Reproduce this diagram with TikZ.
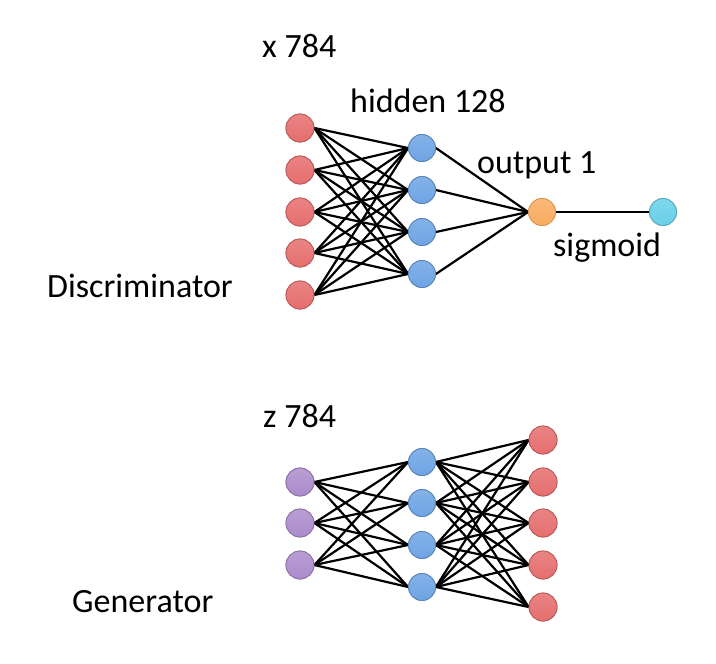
\documentclass[tikz,border=0pt]{standalone}
\usepackage{fontspec}
\setmainfont{Carlito}
\definecolor{nred}{RGB}{230,110,110}
\definecolor{nblue}{RGB}{110,164,228}
\definecolor{norange}{RGB}{250,172,96}
\definecolor{ncyan}{RGB}{104,208,232}
\definecolor{npurple}{RGB}{172,140,204}
\tikzset{
  neuron/.style={circle,minimum size=28pt,inner sep=0pt,line width=0.8pt},
  redn/.style={neuron,top color=nred!85!white,bottom color=nred,draw=nred!80!black},
  bluen/.style={neuron,minimum size=27pt,top color=nblue!85!white,bottom color=nblue,draw=nblue!80!black},
  orangen/.style={neuron,minimum size=27pt,top color=norange!85!white,bottom color=norange,draw=norange!85!black},
  cyann/.style={neuron,minimum size=27pt,top color=ncyan!85!white,bottom color=ncyan,draw=ncyan!80!black},
  purplen/.style={neuron,top color=npurple!85!white,bottom color=npurple,draw=npurple!80!black},
  conn/.style={draw=black,line width=2.2pt},
  lbl/.style={anchor=base west,inner sep=0pt,font=\fontsize{34}{40}\selectfont}
}
\begin{document}
\begin{tikzpicture}[x=1pt,y=-1pt]
\useasboundingbox (0,0) rectangle (716,664);
% Discriminator
\foreach \i/\y in {1/128,2/170,3/212,4/253,5/295} \node[redn] (di\i) at (300,\y) {};
\foreach \i/\y in {1/148,2/190,3/232,4/274} \node[bluen] (dh\i) at (422,\y) {};
\node[orangen] (do) at (542,212) {};
\node[cyann] (ds) at (663,212) {};
\foreach \i in {1,...,5}
  \foreach \j in {1,...,4}
    \draw[conn] (di\i.east) -- (dh\j.west);
\foreach \j in {1,...,4} \draw[conn] (dh\j.east) -- (do.west);
\draw[conn] (do.east) -- (ds.west);
% redraw nodes on top
\foreach \i in {1,...,5} \node[redn] at (di\i) {};
\foreach \i in {1,...,4} \node[bluen] at (dh\i) {};
\node[orangen] at (do) {};
\node[cyann] at (ds) {};
% Generator
\foreach \i/\y in {1/482,2/523,3/565} \node[purplen] (gi\i) at (300,\y) {};
\foreach \i/\y in {1/462,2/503,3/545,4/587} \node[bluen] (gh\i) at (422,\y) {};
\foreach \i/\y in {1/440,2/482,3/523,4/565,5/607} \node[redn] (go\i) at (543,\y) {};
\foreach \i in {1,...,3}
  \foreach \j in {1,...,4}
    \draw[conn] (gi\i.east) -- (gh\j.west);
\foreach \i in {1,...,4}
  \foreach \j in {1,...,5}
    \draw[conn] (gh\i.east) -- (go\j.west);
\foreach \i in {1,...,3} \node[purplen] at (gi\i) {};
\foreach \i in {1,...,4} \node[bluen] at (gh\i) {};
\foreach \i in {1,...,5} \node[redn] at (go\i) {};
% labels
\node[lbl] (tx) at (262,57) {x 784};
\node[lbl] (th) at (350,112) {hidden 128};
\node[lbl] (to) at (477,173) {output 1};
\node[lbl] (tsg) at (553,256) {sigmoid};
\node[lbl] (td) at (47,297) {Discriminator};
\node[lbl] (tz) at (263,427) {z 784};
\node[lbl] (tg) at (72,612) {Generator};
\end{tikzpicture}
\end{document}
